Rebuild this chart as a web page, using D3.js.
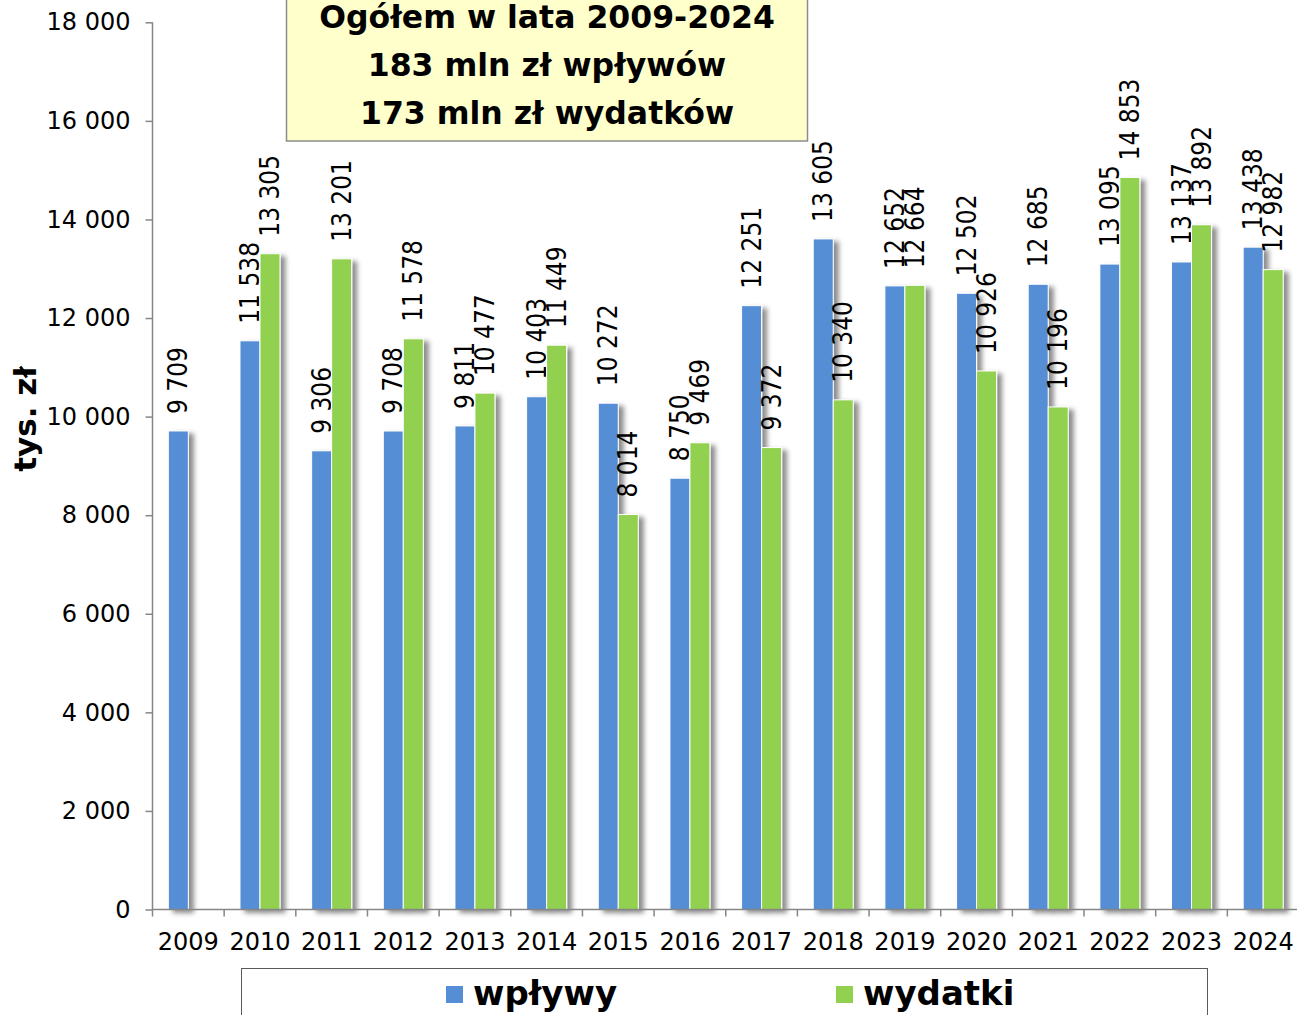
<!DOCTYPE html>
<html>
<head>
<meta charset="utf-8">
<script src="https://cdn.jsdelivr.net/npm/d3@7"></script>
<style>
  body { margin: 0; background: #fff; }
  svg { display: block; }
</style>
</head>
<body>
<svg id="container" width="1297" height="1015"></svg>
<script>
// data (tys. zł)
var years = ['2009','2010','2011','2012','2013','2014','2015','2016','2017','2018','2019','2020','2021','2022','2023','2024'];
var wplywy = [9709, 11538, 9306, 9708, 9811, 10403, 10272, 8750, 12251, 13605, 12652, 12502, 12685, 13095, 13137, 13438];
var wydatki = [null, 13305, 13201, 11578, 10477, 11449, 8014, 9469, 9372, 10340, 12664, 10926, 10196, 14853, 13892, 12982];
var yTicks = [0, 2000, 4000, 6000, 8000, 10000, 12000, 14000, 16000, 18000];
var seriesNames = ['wpływy', 'wydatki'];
var titleLines = ['Ogółem w lata 2009-2024', '183 mln zł wpływów', '173 mln zł wydatków'];

var colors = ['#558ed5', '#92d050'];

var svg = d3.select('#container');

// number format with space as thousands separator, e.g. "9 709"
var fmt = d3.formatLocale({decimal: ',', thousands: ' ', grouping: [3], currency: ['', '']}).format(',d');

// scales
var x = d3.scaleBand().domain(years).range([152.5, 1299]);
var y = d3.scaleLinear().domain([0, 18000]).range([909.5, 22.3]);
var barW = 20;

// shadow filter for bars
var defs = svg.append('defs');
var f = defs.append('filter').attr('id', 'shadow')
    .attr('x', '-20%').attr('y', '-5%').attr('width', '180%').attr('height', '115%');
f.append('feDropShadow')
    .attr('dx', 5).attr('dy', 3).attr('stdDeviation', 2.5)
    .attr('flood-color', '#000').attr('flood-opacity', 0.45);

// bars
var series = [wplywy, wydatki];
series.forEach(function(vals, s){
  var rows = years.map(function(yr, i){ return {year: yr, v: vals[i]}; })
      .filter(function(d){ return d.v != null; });

  var g = svg.append('g').attr('class', 'series' + s);

  g.selectAll('rect')
      .data(rows)
    .enter().append('rect')
      .attr('x', d => x(d.year) + x.bandwidth()/2 - barW + s*barW)
      .attr('y', d => y(d.v))
      .attr('width', barW)
      .attr('height', d => y(0) - y(d.v))
      .attr('fill', colors[s])
      .attr('stroke', '#fff')
      .attr('stroke-width', 1)
      .attr('filter', 'url(#shadow)');

  // value labels, rotated
  g.selectAll('text')
      .data(rows)
    .enter().append('text')
      .attr('transform', d => {
        var cx = x(d.year) + x.bandwidth()/2 - barW/2 + s*barW;
        return `translate(${cx}, ${y(d.v) - 17}) rotate(-90)`;
      })
      .attr('dy', '0.35em')
      .attr('text-anchor', 'start')
      .style('font-family', '"DejaVu Sans Condensed", "DejaVu Sans", sans-serif')
      .style('font-stretch', 'condensed')
      .style('font-size', '26px')
      .style('fill', '#000')
      .text(d => fmt(d.v));
});

// y axis
var yAxis = svg.append('g')
    .attr('transform', 'translate(152.5,0)')
    .call(d3.axisLeft(y).tickValues(yTicks).tickSize(7).tickPadding(15).tickFormat(fmt));

// x axis
var xAxis = svg.append('g')
    .attr('transform', `translate(0, ${y(0)})`)
    .call(d3.axisBottom(x).tickSize(0).tickPadding(40));

// tick marks between categories
xAxis.selectAll('.sep')
    .data(years.concat(['end']))
  .enter().append('line')
    .attr('class', 'sep')
    .attr('x1', (d, i) => x.range()[0] + i*x.step())
    .attr('x2', (d, i) => x.range()[0] + i*x.step())
    .attr('y1', 0).attr('y2', 7)
    .attr('stroke', '#868686').attr('stroke-width', 1.5);

[yAxis, xAxis].forEach(function(a){
  a.select('.domain').attr('stroke', '#868686').attr('stroke-width', 1.5);
  a.selectAll('.tick line').attr('stroke', '#868686').attr('stroke-width', 1.5);
  a.selectAll('.tick text')
      .style('font-family', '"DejaVu Sans", Verdana, sans-serif')
      .style('font-size', '24px')
      .style('fill', '#000');
});
xAxis.selectAll('.tick text').attr('dy', 0);
// drop the outer tick stubs of the axis domains
xAxis.select('.domain').attr('d', `M${x.range()[0]},0H${x.range()[1]}`);
yAxis.select('.domain').attr('d', `M0,${y(18000)}V${y(0)}`);

// y axis title
svg.append('text')
    .attr('transform', `translate(25, 419) rotate(-90)`)
    .attr('text-anchor', 'middle')
    .attr('dy', '0.35em')
    .style('font-family', '"DejaVu Sans", Verdana, sans-serif')
    .style('font-weight', 'bold')
    .style('font-size', '31px')
    .text('tys. zł');

// title box (its top runs off the picture, as in the original)
svg.append('rect')
    .attr('x', 286.5).attr('y', -10)
    .attr('width', 521).attr('height', 151)
    .attr('fill', '#ffffcc')
    .attr('stroke', '#8c8c8c').attr('stroke-width', 1.5);

svg.append('g').selectAll('text')
    .data(titleLines)
  .enter().append('text')
    .attr('x', 547)
    .attr('y', (d, i) => 28 + i*48)
    .attr('text-anchor', 'middle')
    .style('font-family', '"DejaVu Sans", sans-serif')
    .style('font-weight', 'bold')
    .style('font-size', '31.5px')
    .text(d => d);

// legend
svg.append('rect')
    .attr('x', 241.5).attr('y', 968.5)
    .attr('width', 966).attr('height', 60)
    .attr('fill', '#fff')
    .attr('stroke', '#595959').attr('stroke-width', 1);

var legendX = [446, 836];
var leg = svg.append('g').selectAll('g')
    .data(seriesNames)
  .enter().append('g')
    .attr('transform', (d, i) => `translate(${legendX[i]}, 986)`);

leg.append('rect')
    .attr('width', 17).attr('height', 17)
    .attr('fill', (d, i) => colors[i]);

leg.append('text')
    .attr('x', 27).attr('y', 19)
    .style('font-family', '"DejaVu Sans", Verdana, sans-serif')
    .style('font-weight', 'bold')
    .style('font-size', '34px')
    .text(d => d);
</script>
</body>
</html>
